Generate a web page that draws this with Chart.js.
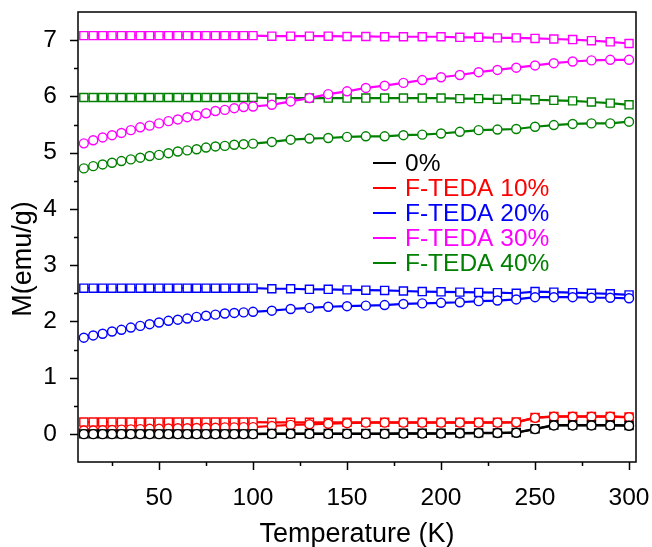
<!DOCTYPE html>
<html>
<head>
<meta charset="utf-8">
<script src="https://cdn.jsdelivr.net/npm/chart.js@4"></script>
<style>
html,body{margin:0;padding:0;background:#fff;}
#wrap{position:relative;width:652px;height:547px;}
</style>
</head>
<body>
<div id="wrap"><canvas id="c" width="652" height="547"></canvas></div>
<script>
// ---- data ----
const temps = [10,15,20,25,30,35,40,45,50,55,60,65,70,75,80,85,90,95,100,
  110,120,130,140,150,160,170,180,190,200,210,220,230,240,250,260,270,280,290,300];

const legendLabels = ['0%', 'F-TEDA 10%', 'F-TEDA 20%', 'F-TEDA 30%', 'F-TEDA 40%'];
const seriesColors = ['#000000', '#ff0000', '#0000ff', '#ff00ff', '#008000'];

const sq0 = [0,0,0,0,0,0,0,0,0,0,0,0,0,0,0,0,0,0,0,
  0.005,0.005,0.005,0.005,0.005,0.005,0.005,0.01,0.01,0.01,0.015,0.018,0.018,0.025,0.09,0.157,0.157,0.157,0.157,0.15];
const ci0 = [-0.005,-0.005,-0.005,-0.005,-0.005,-0.005,-0.005,-0.005,-0.005,-0.005,-0.005,-0.005,-0.005,-0.005,-0.005,-0.005,-0.005,-0.005,-0.005,
  0,0,0,0,0,0,0,0.005,0.005,0.005,0.01,0.015,0.015,0.02,0.085,0.15,0.15,0.15,0.15,0.145];

const sq10 = [0.21,0.21,0.21,0.21,0.21,0.21,0.21,0.21,0.21,0.21,0.21,0.21,0.21,0.21,0.21,0.21,0.21,0.21,0.21,
  0.205,0.205,0.205,0.205,0.205,0.205,0.205,0.205,0.205,0.205,0.205,0.205,0.205,0.21,0.29,0.31,0.31,0.31,0.31,0.30];
const ci10 = [0.06,0.06,0.065,0.07,0.075,0.08,0.085,0.09,0.09,0.095,0.10,0.10,0.105,0.11,0.11,0.115,0.115,0.12,0.12,
  0.14,0.16,0.17,0.18,0.19,0.20,0.20,0.20,0.20,0.20,0.20,0.20,0.20,0.205,0.285,0.305,0.305,0.305,0.305,0.295];

const sq20 = [2.59,2.59,2.59,2.59,2.59,2.59,2.59,2.59,2.59,2.59,2.59,2.59,2.59,2.59,2.59,2.59,2.59,2.59,2.59,
  2.58,2.58,2.57,2.57,2.56,2.555,2.55,2.54,2.53,2.525,2.52,2.515,2.51,2.50,2.53,2.52,2.51,2.50,2.49,2.47];
const ci20 = [1.71,1.75,1.78,1.82,1.85,1.89,1.92,1.95,1.98,2.01,2.03,2.05,2.08,2.10,2.12,2.14,2.15,2.16,2.17,
  2.19,2.22,2.24,2.26,2.27,2.28,2.29,2.31,2.32,2.33,2.34,2.36,2.37,2.39,2.43,2.43,2.43,2.42,2.42,2.41];

const sq30 = [7.08,7.08,7.08,7.08,7.08,7.08,7.08,7.08,7.08,7.08,7.08,7.08,7.08,7.08,7.08,7.08,7.08,7.08,7.08,
  7.07,7.07,7.07,7.07,7.065,7.065,7.06,7.06,7.06,7.06,7.05,7.05,7.04,7.04,7.03,7.02,7.01,6.99,6.97,6.94];
const ci30 = [5.165,5.22,5.27,5.31,5.35,5.40,5.45,5.48,5.52,5.56,5.59,5.63,5.66,5.70,5.74,5.76,5.79,5.81,5.82,
  5.85,5.91,5.97,6.04,6.09,6.15,6.19,6.24,6.29,6.34,6.38,6.43,6.47,6.51,6.55,6.59,6.62,6.64,6.65,6.65];

const sq40 = [5.98,5.98,5.98,5.98,5.98,5.98,5.98,5.98,5.98,5.98,5.98,5.98,5.98,5.98,5.98,5.98,5.98,5.98,5.98,
  5.97,5.97,5.97,5.97,5.97,5.97,5.97,5.97,5.97,5.97,5.96,5.96,5.95,5.95,5.94,5.93,5.92,5.90,5.88,5.85];
const ci40 = [4.72,4.76,4.79,4.82,4.85,4.88,4.91,4.94,4.96,4.99,5.02,5.04,5.06,5.09,5.11,5.12,5.14,5.15,5.16,
  5.19,5.23,5.25,5.26,5.28,5.29,5.29,5.31,5.32,5.34,5.37,5.40,5.41,5.42,5.46,5.49,5.51,5.52,5.52,5.55];

const xTickValues = [25,50,75,100,125,150,175,200,225,250,275,300];
const yTickValues = [0,0.5,1,1.5,2,2.5,3,3.5,4,4.5,5,5.5,6,6.5,7];
const xTitle = 'Temperature (K)';
const yTitle = 'M(emu/g)';

// ---- build ----
const FONT = 'Arial, "Liberation Sans", sans-serif';
const pairs = [[sq0,ci0],[sq10,ci10],[sq20,ci20],[sq30,ci30],[sq40,ci40]];
const datasets = [];
pairs.forEach((p, i) => {
  const col = seriesColors[i];
  [['circle', p[1], 4.5], ['rect', p[0], 5.7]].forEach(([style, arr, r]) => {
    datasets.push({
      data: temps.map((t, k) => ({x: t, y: arr[k]})),
      borderColor: col,
      backgroundColor: '#ffffff',
      pointBorderColor: col,
      pointBackgroundColor: '#ffffff',
      pointStyle: style,
      pointRadius: r,
      pointBorderWidth: 1.4,
      borderWidth: 2.2,
      tension: 0
    });
  });
});

const framePlugin = {
  id: 'frame',
  afterDraw(chart) {
    const ctx = chart.ctx, a = chart.chartArea;
    const xs = chart.scales.x, ys = chart.scales.y;
    ctx.save();
    ctx.strokeStyle = '#000';
    ctx.lineWidth = 1.5;
    ctx.strokeRect(a.left, a.top, a.right - a.left, a.bottom - a.top);
    ctx.beginPath();
    xTickValues.forEach(v => {
      const px = Math.round(xs.getPixelForValue(v)) + 0.5;
      const len = v % 50 === 0 ? 8 : 4;
      ctx.moveTo(px, a.bottom); ctx.lineTo(px, a.bottom + len);
    });
    yTickValues.forEach(v => {
      const py = Math.round(ys.getPixelForValue(v)) + 0.5;
      const len = Number.isInteger(v) ? 8 : 4;
      ctx.moveTo(a.left, py); ctx.lineTo(a.left - len, py);
    });
    ctx.stroke();
    // axis titles
    ctx.fillStyle = '#000';
    ctx.font = '27px ' + FONT;
    ctx.textAlign = 'center';
    ctx.textBaseline = 'alphabetic';
    ctx.fillText(xTitle, (a.left + a.right) / 2, 541.5);
    ctx.save();
    ctx.translate(31, 259);
    ctx.rotate(-Math.PI / 2);
    ctx.fillText(yTitle, 0, 0);
    ctx.restore();
    // legend
    ctx.font = '24.5px ' + FONT;
    ctx.textAlign = 'left';
    ctx.textBaseline = 'middle';
    ctx.lineWidth = 2;
    legendLabels.forEach((lab, i) => {
      const y = 163 + i * 25;
      ctx.strokeStyle = seriesColors[i];
      ctx.beginPath();
      ctx.moveTo(373, y); ctx.lineTo(396, y);
      ctx.stroke();
      ctx.fillStyle = seriesColors[i];
      ctx.fillText(lab, 405, y + 1);
    });
    ctx.restore();
  }
};

new Chart(document.getElementById('c'), {
  type: 'line',
  data: {datasets},
  plugins: [framePlugin],
  options: {
    responsive: false,
    animation: false,
    devicePixelRatio: 1,
    layout: {padding: {top: 12, right: 16, left: 0, bottom: 0}},
    plugins: {legend: {display: false}, tooltip: {enabled: false}},
    scales: {
      x: {
        type: 'linear', min: 6.9, max: 303.7,
        afterBuildTicks: s => { s.ticks = xTickValues.map(v => ({value: v})); },
        afterFit: s => { s.height = 85; s.paddingLeft = 0; s.paddingRight = 0; },
        grid: {display: false},
        border: {display: false},
        ticks: {
          color: '#000', font: {size: 24.5, family: FONT}, padding: 14, maxRotation: 0, autoSkip: false,
          callback: v => (v % 50 === 0 ? String(v) : '')
        }
      },
      y: {
        type: 'linear', min: -0.5, max: 7.5,
        afterBuildTicks: s => { s.ticks = yTickValues.map(v => ({value: v})); },
        afterFit: s => { s.width = 78; s.paddingTop = 0; s.paddingBottom = 0; },
        grid: {display: false},
        border: {display: false},
        ticks: {
          color: '#000', font: {size: 24.5, family: FONT}, padding: 13, autoSkip: false,
          callback: v => (Number.isInteger(v) ? String(v) : '')
        }
      }
    }
  }
});
</script>
</body>
</html>
